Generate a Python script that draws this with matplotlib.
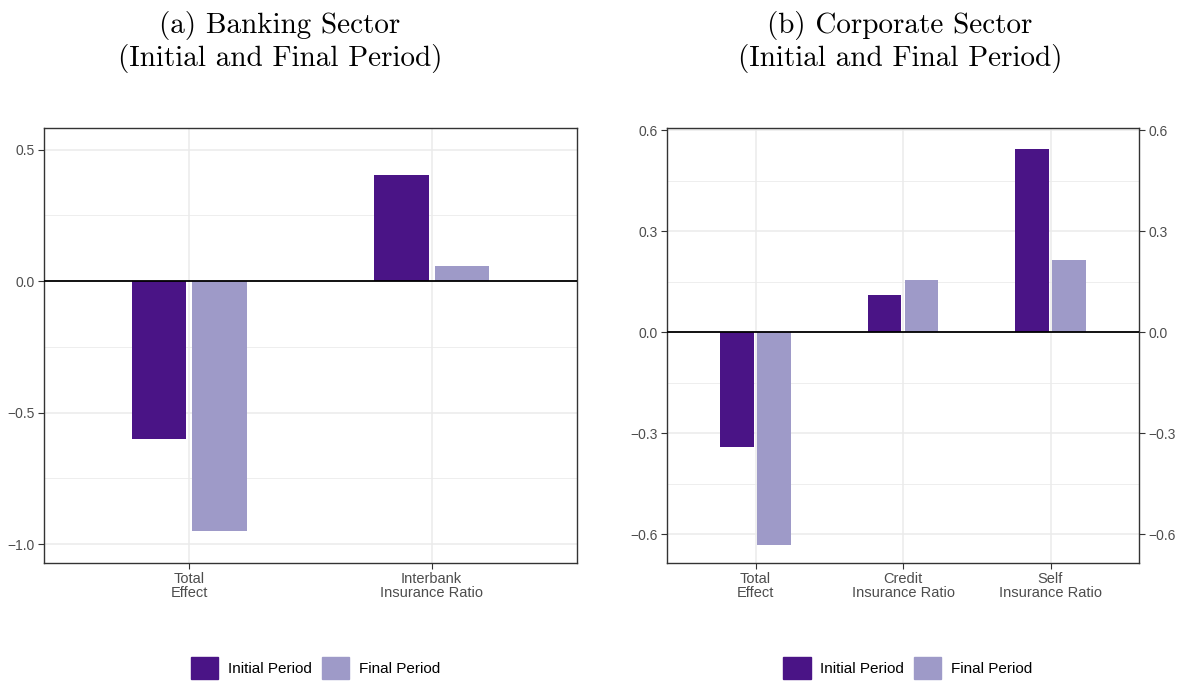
import matplotlib
matplotlib.use("Agg")
import matplotlib.pyplot as plt
import numpy as np
from matplotlib.patches import Patch

# (a) Banking sector
cats_a = ["Total\nEffect", "Interbank\nInsurance Ratio"]
initial_a = [-0.600, 0.403]
final_a = [-0.950, 0.057]

# (b) Corporate sector
cats_b = ["Total\nEffect", "Credit\nInsurance Ratio", "Self\nInsurance Ratio"]
initial_b = [-0.342, 0.110, 0.545]
final_b = [-0.633, 0.155, 0.215]

ticks_a = [-1.0, -0.5, 0.0, 0.5]
ticks_b = [-0.6, -0.3, 0.0, 0.3, 0.6]

c_init = "#4A1486"
c_final = "#9E9AC8"
sans = ["Liberation Sans", "DejaVu Sans"]
serif = ["cmr10", "DejaVu Serif"]

plt.rcParams["font.family"] = sans
plt.rcParams["axes.unicode_minus"] = True

W, H = 1178, 682
fig = plt.figure(figsize=(W / 100, H / 100), dpi=100)


def panel(rect, cats, init, fin, ticks, ylim, title, title_x, right_ticks=False):
    ax = fig.add_axes([rect[0] / W, 1 - rect[3] / H, (rect[2] - rect[0]) / W, (rect[3] - rect[1]) / H])
    x = np.arange(1, len(cats) + 1)
    ax.bar(x - 0.125, init, width=0.225, color=c_init, zorder=3, label="Initial Period")
    ax.bar(x + 0.125, fin, width=0.225, color=c_final, zorder=3, label="Final Period")
    ax.axhline(0, color="black", lw=1.3, zorder=4)
    ax.set_xticks(x)
    ax.set_xticklabels(cats, color="#4D4D4D", fontsize=10.5, linespacing=1.0)
    ax.set_yticks(ticks)
    ax.set_yticklabels([f"{t:.1f}".replace("-", "\u2212") for t in ticks], color="#4D4D4D", fontsize=10)
    step = ticks[1] - ticks[0]
    minors = np.arange(ticks[0] - step / 2, ticks[-1] + step, step)
    ax.set_yticks(minors, minor=True)
    ax.set_xlim(0.4, len(cats) + 0.6)
    ax.set_ylim(*ylim)
    ax.tick_params(axis="y", which="minor", length=0)
    ax.tick_params(which="major", length=4, width=0.8, color="#333333", pad=2.5)
    ax.grid(True, which="major", color="#EBEBEB", lw=1.1, zorder=0)
    ax.grid(True, which="minor", axis="y", color="#EBEBEB", lw=0.6, zorder=0)
    for s in ax.spines.values():
        s.set_color("#333333")
        s.set_linewidth(1.0)
    if right_ticks:
        ax.tick_params(axis="y", which="major", right=True, labelright=True)
    fig.text(title_x / W, 1 - 11 / H, title, family=serif, fontsize=21, linespacing=1.2,
             ha="center", va="top", multialignment="center")
    handles = [Patch(color=c_init, label="Initial Period"), Patch(color=c_final, label="Final Period")]
    cx = ((rect[0] + rect[2]) / 2 + 5) / W
    ax.legend(handles=handles, loc="center", bbox_to_anchor=(cx, 1 - 668 / H),
              bbox_transform=fig.transFigure, ncol=2, frameon=False, fontsize=11,
              handlelength=1.77, handleheight=1.77, handletextpad=0.65, columnspacing=0.65)
    return ax


panel((44, 128, 577, 563), cats_a, initial_a, final_a, ticks_a, (-1.072, 0.582),
      "(a) Banking Sector\n(Initial and Final Period)", 280)
panel((667, 128, 1139, 563), cats_b, initial_b, final_b, ticks_b, (-0.686, 0.606),
      "(b) Corporate Sector\n(Initial and Final Period)", 900, right_ticks=True)

fig.savefig("out.png", dpi=100)
